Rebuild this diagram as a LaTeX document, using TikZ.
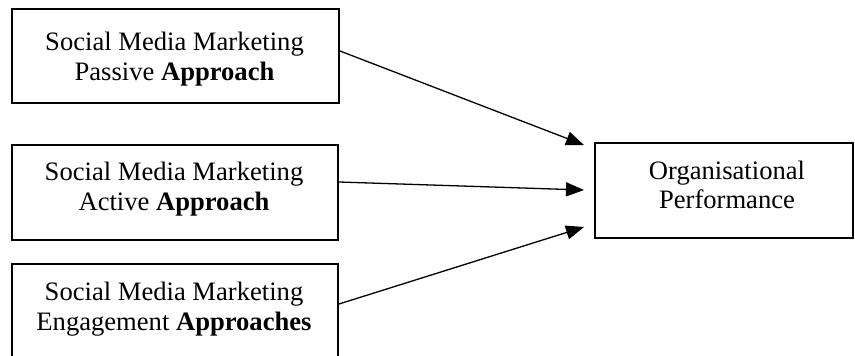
\documentclass[tikz,border=0pt]{standalone}
\usepackage{fontspec}
\setmainfont{Liberation Serif}
\usetikzlibrary{arrows.meta}

\begin{document}
\begin{tikzpicture}[x=1pt,y=-1pt,
  framebox/.style={draw=black,line width=2pt,rectangle,inner sep=0pt},
  label/.style={anchor=base,inner sep=0pt,font=\fontsize{26.6}{30}\selectfont},
  link/.style={line width=1.3pt,-{Triangle[length=18pt,width=14pt]}}
]
\useasboundingbox (0,0) rectangle (855,356);

% input boxes on the left
\node[framebox,anchor=north west,minimum width=327pt,minimum height=94pt] (b1) at (11,8) {};
\node[framebox,anchor=north west,minimum width=326pt,minimum height=95pt] (b2) at (11,144) {};
\node[framebox,anchor=north west,minimum width=326pt,minimum height=97pt] (b3) at (11,263) {};

% outcome box on the right
\node[framebox,anchor=north west,minimum width=258pt,minimum height=95pt] (b4) at (594,142) {};

% box texts
\node[label] (t1a) at (174.5,50) {Social Media Marketing};
\node[label] (t1b) at (174.5,80) {Passive \textbf{Approach}};
\node[label] (t2a) at (174,180) {Social Media Marketing};
\node[label] (t2b) at (174,210) {Active \textbf{Approach}};
\node[label] (t3a) at (174,300) {Social Media Marketing};
\node[label] (t3b) at (174,330) {Engagement \textbf{Approaches}};
\node[label] (t4a) at (727,179) {Organisational};
\node[label] (t4b) at (727,208) {Performance};

% arrow end points just left of the outcome box
\coordinate (e1) at (584,145);
\coordinate (e2) at (584,190);
\coordinate (e3) at (584,227);

\draw[link] ([yshift=5pt]b1.east) -- (e1);
\draw[link] ([yshift=10.5pt]b2.east) -- (e2);
\draw[link] ([yshift=8.5pt]b3.east) -- (e3);
\end{tikzpicture}
\end{document}
